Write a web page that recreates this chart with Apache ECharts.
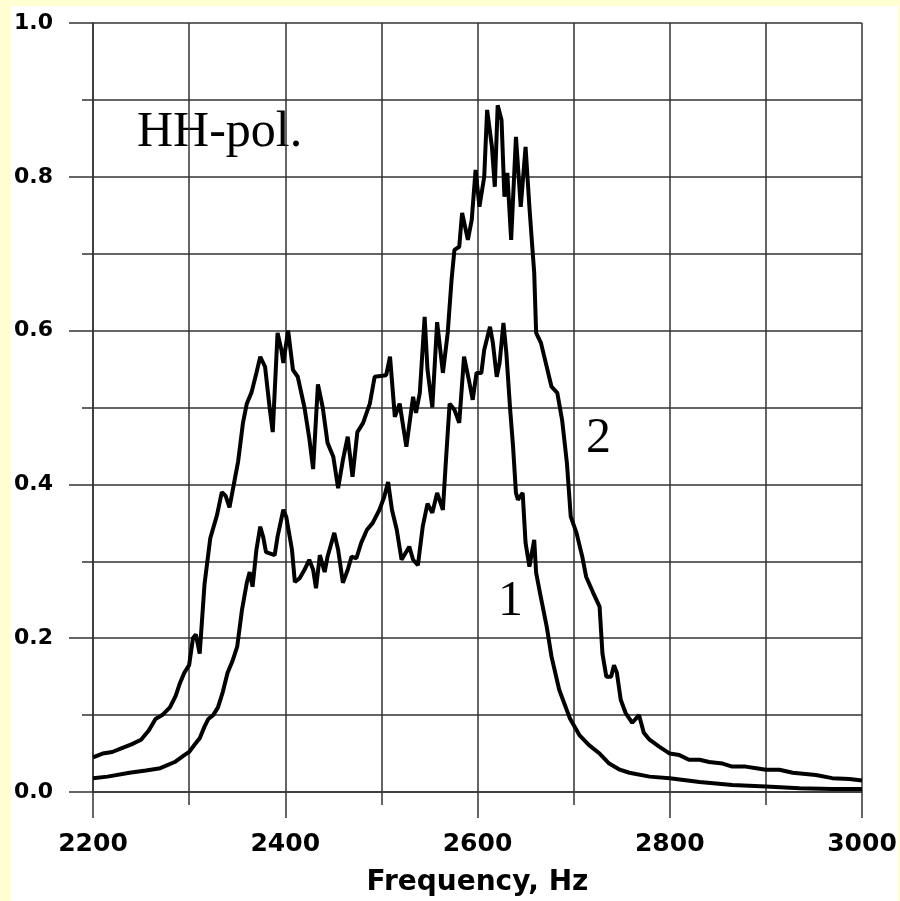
<!DOCTYPE html>
<html>
<head>
<meta charset="utf-8">
<script src="https://cdn.jsdelivr.net/npm/echarts@6/dist/echarts.min.js"></script>
<style>
  html, body { margin: 0; padding: 0; background: #FFFFD2; overflow: hidden; width: 900px; height: 901px; }
  #panel { position: absolute; left: 11px; top: 6px; width: 887px; height: 895px; background: #FFFFFF; }
  #chart { position: absolute; left: 0; top: 0; width: 900px; height: 901px; }
</style>
</head>
<body>
<div id="panel"></div>
<div id="chart"></div>
<script>
// Spectrum, curve 2 (upper)
const freq2 = [2200,2210,2220,2230,2240,2250,2258,2265,2272,2280,2286,2290,2295,2300,2304,2307,2311,2316,2322,2329,2334,2338,2342,2348,2351,2356,2360,2365,2370,2374,2379,2384,2387,2392,2396,2398,2403,2408,2413,2420,2425,2429,2434,2439,2444,2450,2455,2460,2465,2470,2475,2481,2488,2493,2505,2509,2514,2519,2526,2533,2536,2540,2545,2548,2553,2558,2564,2569,2573,2576,2581,2584,2590,2594,2598,2602,2607,2610,2615,2618,2621,2625,2628,2631,2635,2640,2645,2650,2654,2657,2659,2661,2666,2672,2677,2683,2688,2693,2697,2703,2709,2713,2720,2727,2730,2734,2739,2742,2745,2749,2754,2761,2768,2773,2779,2789,2800,2810,2820,2831,2841,2855,2865,2879,2890,2900,2914,2928,2952,2969,2987,3000];
const val2 = [0.045,0.05,0.052,0.057,0.062,0.068,0.08,0.095,0.10,0.11,0.125,0.14,0.155,0.165,0.20,0.205,0.18,0.27,0.33,0.36,0.39,0.385,0.37,0.41,0.43,0.48,0.505,0.52,0.545,0.566,0.553,0.497,0.468,0.597,0.575,0.558,0.60,0.549,0.54,0.50,0.46,0.42,0.53,0.50,0.454,0.436,0.395,0.432,0.462,0.41,0.468,0.48,0.505,0.54,0.542,0.566,0.488,0.505,0.449,0.514,0.493,0.519,0.618,0.549,0.50,0.611,0.545,0.597,0.666,0.705,0.709,0.753,0.718,0.744,0.809,0.761,0.80,0.887,0.839,0.787,0.893,0.874,0.774,0.805,0.718,0.852,0.761,0.839,0.761,0.709,0.675,0.597,0.584,0.553,0.527,0.519,0.484,0.428,0.358,0.337,0.306,0.28,0.26,0.241,0.18,0.15,0.15,0.165,0.155,0.12,0.103,0.09,0.10,0.077,0.068,0.059,0.05,0.048,0.042,0.042,0.039,0.037,0.033,0.033,0.031,0.029,0.029,0.025,0.022,0.018,0.017,0.015];

// Spectrum, curve 1 (lower)
const freq1 = [2200,2215,2238,2255,2270,2285,2295,2300,2306,2311,2316,2320,2325,2330,2335,2340,2345,2350,2355,2360,2363,2366,2370,2374,2377,2380,2389,2392,2398,2401,2407,2410,2415,2420,2425,2429,2432,2436,2441,2444,2451,2455,2460,2465,2469,2474,2479,2485,2491,2498,2503,2507,2511,2516,2521,2529,2533,2538,2543,2548,2553,2558,2564,2567,2571,2576,2581,2586,2591,2595,2599,2604,2607,2613,2616,2620,2623,2627,2630,2634,2637,2640,2642,2647,2650,2654,2659,2661,2665,2672,2677,2685,2696,2706,2716,2727,2737,2748,2758,2779,2800,2831,2865,2900,2935,2969,3000];
const val1 = [0.018,0.02,0.025,0.028,0.031,0.039,0.048,0.052,0.062,0.07,0.085,0.095,0.10,0.11,0.13,0.155,0.17,0.189,0.237,0.272,0.286,0.267,0.315,0.345,0.332,0.312,0.308,0.332,0.367,0.358,0.315,0.273,0.278,0.289,0.302,0.289,0.265,0.308,0.286,0.306,0.337,0.315,0.272,0.289,0.306,0.304,0.324,0.341,0.35,0.367,0.384,0.403,0.367,0.341,0.302,0.319,0.302,0.295,0.345,0.375,0.363,0.389,0.367,0.428,0.505,0.497,0.48,0.566,0.536,0.51,0.545,0.545,0.575,0.605,0.584,0.54,0.558,0.61,0.571,0.497,0.449,0.389,0.38,0.389,0.324,0.293,0.328,0.285,0.259,0.215,0.176,0.133,0.096,0.074,0.061,0.05,0.037,0.029,0.025,0.02,0.018,0.013,0.009,0.007,0.005,0.004,0.004];

const xTicks = { min: 2200, max: 3000, step: 200 };
const yTicks = { min: 0, max: 1, step: 0.2 };

const pairs = (xs, ys) => xs.map((x, i) => [x, ys[i]]);

const gridLine = { color: '#333333', width: 1.5 };
const labelFont = 'DejaVu Sans, Verdana, sans-serif';
const serifFont = '50px "Liberation Serif", "Times New Roman", serif';

const chart = echarts.init(document.getElementById('chart'), null, { renderer: 'canvas', width: 900, height: 901 });
chart.setOption({
  backgroundColor: 'transparent',
  animation: false,
  grid: { left: 93, top: 23, width: 769, height: 769, containLabel: false, outerBoundsMode: 'none' },
  xAxis: {
    type: 'value',
    min: xTicks.min, max: xTicks.max, interval: xTicks.step,
    axisLine: { show: true, lineStyle: gridLine },
    axisTick: { show: true, length: 26, lineStyle: gridLine },
    minorTick: { show: true, splitNumber: 2, length: 13, lineStyle: gridLine },
    splitLine: { show: true, lineStyle: gridLine },
    minorSplitLine: { show: true, lineStyle: gridLine },
    axisLabel: { margin: 40, color: '#000', fontSize: 25, fontWeight: 'bold', fontFamily: labelFont,
                 formatter: v => String(v) },
    name: 'Frequency, Hz',
    nameLocation: 'middle',
    nameGap: 77,
    nameMoveOverlap: false,
    nameTextStyle: { color: '#000', fontSize: 28, fontWeight: 'bold', fontFamily: labelFont }
  },
  yAxis: {
    type: 'value',
    min: yTicks.min, max: yTicks.max, interval: yTicks.step,
    axisLine: { show: true, lineStyle: gridLine },
    axisTick: { show: true, length: 24, lineStyle: gridLine },
    minorTick: { show: true, splitNumber: 2, length: 11, lineStyle: gridLine },
    splitLine: { show: true, lineStyle: gridLine },
    minorSplitLine: { show: true, lineStyle: gridLine },
    axisLabel: { margin: 40, color: '#000', fontSize: 22, fontWeight: 'bold', fontFamily: labelFont,
                 formatter: v => v.toFixed(1) }
  },
  series: [
    { name: '2', type: 'line', data: pairs(freq2, val2), showSymbol: false, smooth: false,
      lineStyle: { color: '#000', width: 4 }, z: 5 },
    { name: '1', type: 'line', data: pairs(freq1, val1), showSymbol: false, smooth: false,
      lineStyle: { color: '#000', width: 4 }, z: 5 }
  ],
  graphic: [
    { type: 'text', left: 137, top: 108, style: { text: 'HH-pol.', font: serifFont, fill: '#000' } },
    { type: 'text', left: 586, top: 414, style: { text: '2', font: serifFont, fill: '#000' } },
    { type: 'text', left: 498, top: 577, style: { text: '1', font: serifFont, fill: '#000' } }
  ]
});
</script>
</body>
</html>
